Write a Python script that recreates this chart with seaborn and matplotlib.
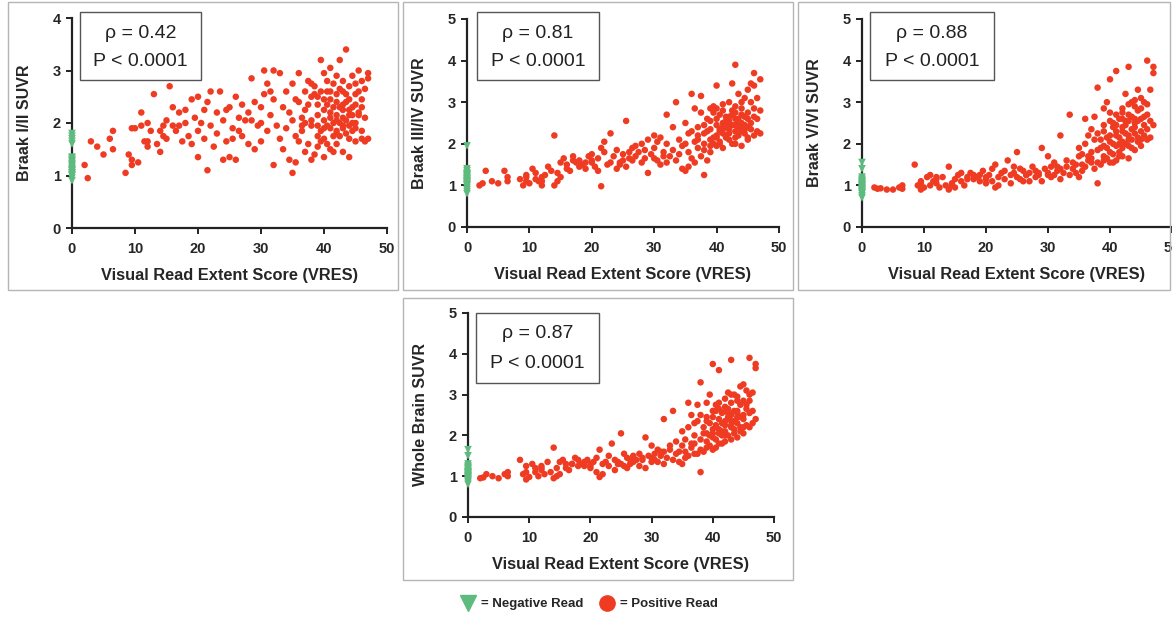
import numpy as np
import pandas as pd
import matplotlib
matplotlib.use("Agg")
import matplotlib.pyplot as plt
from matplotlib.patches import Rectangle
from matplotlib.lines import Line2D
import seaborn as sns

# ---------------- data ----------------
x_pos = [2, 2.5, 3, 4, 5, 6, 6.5, 6.5, 8.5, 9, 9.5, 9.5, 9.5, 10, 10.5, 11, 11, 11.5, 12, 12,
         12.5, 13, 14, 14, 14.5, 14.5, 15, 15, 15.5, 16, 16, 16.5, 17, 17.5, 18, 18, 18.5, 19, 19.5, 20,
         20, 20, 20.5, 21, 21, 21.5, 21.5, 22, 22, 22.5, 23, 23, 23.5, 24, 24, 24.5, 25, 25, 25.5, 25.5,
         26, 26, 26.5, 27, 27, 27.5, 28, 28, 28.5, 29, 29, 29.5, 30, 30, 30.5, 30.5, 31, 31, 31.5, 32,
         32, 32, 32.5, 33, 33, 33.5, 33.5, 34, 34, 34.5, 35, 35, 35, 35.5, 35.5, 36, 36, 36, 36.5, 36.5,
         37, 37, 37, 37.5, 37.5, 38, 38, 38, 38.5, 38.5, 39, 39, 39, 39.5, 39.5, 40, 40, 40, 40, 40.5,
         40.5, 40.5, 41, 41, 41, 41, 41.5, 41.5, 41.5, 42, 42, 42, 42, 42.5, 42.5, 42.5, 43, 43, 43, 43,
         43.5, 43.5, 43.5, 44, 44, 44, 44.5, 44.5, 44.5, 45, 45, 45, 45.5, 45.5, 46, 46, 46, 46.5, 46.5,
         47, 47, 47, 36.5, 37.5, 38, 38.5, 39, 39.5, 39.5, 40, 40, 40.5, 40.5, 41, 41, 41.5, 41.5, 42,
         42, 42, 42.5, 42.5, 43, 43, 43, 43.5, 43.5, 44, 44, 44, 44.5, 44.5, 45, 45, 45.5, 45.5, 46, 46,
         46.5, 37, 38, 39, 34.5, 35.5, 30, 31.5, 28.5, 26.5, 24.5, 19, 17, 13.5, 12, 40, 42, 43, 44, 45,
         41, 39]

braak12_pos = [1.20, 0.95, 1.65, 1.55, 1.40, 1.70, 1.85, 1.50, 1.05, 1.40, 1.90, 1.30, 1.20, 1.90, 1.25, 2.20, 1.95, 1.65, 1.55, 2.00,
               1.85, 2.55, 1.45, 1.85, 1.75, 1.95, 2.05, 1.70, 2.70, 1.95, 2.30, 1.85, 2.20, 1.65, 2.00, 2.25, 1.75, 2.45, 2.10, 1.85,
               2.50, 1.35, 2.00, 1.70, 2.25, 1.10, 2.40, 1.95, 2.60, 1.55, 2.20, 1.80, 2.60, 1.30, 2.05, 1.65, 1.35, 2.30, 1.90, 1.70,
               1.30, 2.50, 2.10, 1.75, 2.35, 2.05, 1.60, 2.20, 2.85, 1.50, 2.40, 1.95, 2.30, 1.65, 3.00, 2.55, 1.85, 2.75, 2.15, 1.20,
               3.00, 2.45, 1.95, 2.95, 1.70, 2.30, 1.50, 2.60, 1.90, 1.30, 2.05, 1.05, 2.75, 1.75, 1.25, 2.40, 1.65, 2.95, 2.10, 1.85,
               2.60, 1.45, 2.25, 2.80, 1.60, 1.30, 2.50, 1.95, 1.40, 2.70, 1.75, 2.15, 1.55, 3.20, 1.85, 2.05, 1.35, 2.95, 1.70, 2.35,
               1.95, 2.60, 2.20, 1.50, 3.05, 2.45, 2.00, 2.75, 1.75, 2.15, 1.85, 2.55, 1.60, 2.30, 2.00, 3.20, 1.95, 2.60, 2.10, 1.45,
               2.40, 3.40, 1.80, 2.25, 1.35, 2.70, 2.00, 2.90, 2.15, 2.55, 1.65, 2.35, 3.00, 2.20, 2.80, 2.45, 1.85, 2.65, 1.65,
               2.95, 2.85, 1.70, 1.95, 2.35, 2.05, 2.55, 2.35, 1.65, 2.60, 2.25, 1.90, 2.80, 1.60, 1.90, 2.60, 2.30, 1.45, 2.90,
               2.05, 2.40, 1.75, 2.65, 2.25, 2.80, 1.90, 2.05, 2.55, 1.95, 2.45, 1.70, 2.30, 1.85, 2.00, 2.75, 2.15, 2.60, 2.30, 1.70,
               2.10, 2.00, 2.75, 1.95, 2.20, 2.45, 2.00, 2.60, 2.05, 1.85, 2.25, 1.60, 1.95, 1.60, 1.65, 2.45, 1.80, 2.35, 2.15, 1.90,
               2.10, 2.50]

braak34_pos = [1.00, 1.05, 1.35, 1.10, 1.05, 1.35, 1.10, 1.20, 1.15, 1.00, 1.20, 1.10, 1.25, 1.05, 1.40, 1.15, 1.30, 1.10, 1.20, 1.00,
               1.25, 1.45, 2.20, 1.00, 1.10, 1.30, 1.55, 1.20, 1.65, 1.40, 1.50, 1.35, 1.70, 1.55, 1.45, 1.60, 1.50, 1.40, 1.70, 1.55,
               1.75, 1.60, 1.45, 1.35, 1.65, 0.98, 1.90, 1.80, 2.05, 1.50, 1.55, 2.25, 1.70, 1.40, 1.85, 1.55, 1.60, 1.75, 2.55, 1.45,
               1.65, 1.80, 1.90, 1.70, 1.95, 1.80, 1.55, 2.00, 1.85, 1.30, 2.10, 1.75, 2.20, 1.90, 1.60, 2.05, 1.50, 2.15, 1.80, 1.55,
               2.70, 2.00, 1.70, 2.40, 1.85, 3.00, 1.60, 2.10, 1.75, 1.40, 2.00, 1.35, 2.50, 1.80, 1.45, 2.30, 1.65, 3.20, 2.85, 1.55,
               2.40, 1.90, 2.10, 3.15, 1.70, 1.25, 2.00, 2.25, 1.60, 2.60, 2.35, 1.80, 2.10, 2.90, 2.00, 2.45, 1.95, 3.40, 2.20, 2.70,
               2.30, 2.05, 2.50, 1.90, 2.95, 2.25, 2.65, 2.40, 2.15, 3.00, 2.35, 2.55, 2.10, 2.80, 2.45, 3.45, 2.30, 3.90, 2.60, 2.00,
               2.50, 3.20, 2.20, 2.85, 1.95, 2.40, 2.65, 3.10, 2.25, 3.30, 2.10, 2.75, 3.45, 2.50, 3.70, 2.85, 2.20, 3.10, 2.60,
               3.55, 2.25, 2.80, 2.05, 2.75, 1.85, 2.30, 2.55, 2.15, 2.75, 2.15, 2.60, 2.35, 2.00, 2.40, 2.80, 2.20, 2.55, 2.65,
               2.25, 2.40, 2.00, 2.70, 2.45, 2.15, 2.75, 2.35, 2.60, 2.30, 3.00, 2.50, 2.45, 2.35, 2.60, 2.40, 3.00, 2.35, 2.65, 3.40,
               2.30, 2.20, 2.45, 1.95, 1.95, 2.25, 1.65, 1.70, 1.65, 1.60, 1.50, 1.55, 1.60, 1.35, 1.10, 2.85, 2.50, 2.90, 2.70, 2.15,
               2.35, 2.85]

braak56_pos = [0.95, 0.92, 0.93, 0.90, 0.90, 0.95, 1.00, 0.92, 1.50, 1.00, 0.90, 1.10, 1.05, 0.95, 1.20, 1.00, 1.25, 1.10, 1.15, 1.05,
               0.95, 1.20, 1.45, 0.90, 1.00, 1.05, 1.15, 0.95, 1.25, 1.10, 1.30, 1.00, 1.20, 1.30, 1.15, 1.25, 1.20, 1.10, 1.35, 1.20,
               1.15, 1.05, 1.25, 1.10, 1.40, 0.95, 1.50, 1.00, 1.20, 1.30, 1.15, 1.35, 1.60, 1.05, 1.25, 1.45, 1.20, 1.80, 1.40, 1.15,
               1.10, 1.35, 1.25, 1.10, 1.30, 1.45, 1.20, 1.35, 1.25, 1.10, 1.90, 1.40, 1.30, 1.70, 1.20, 1.45, 1.25, 1.55, 1.35, 1.15,
               2.20, 1.40, 1.30, 1.45, 1.60, 2.70, 1.25, 1.55, 1.40, 1.30, 1.70, 1.20, 1.90, 1.50, 1.35, 2.00, 1.45, 2.60, 2.20, 1.60,
               1.80, 1.55, 2.35, 2.65, 1.40, 1.05, 3.35, 1.85, 1.50, 2.10, 1.70, 2.45, 1.60, 3.00, 1.90, 2.20, 1.55, 3.55, 2.75, 2.00,
               1.75, 2.50, 2.30, 1.60, 3.75, 1.95, 2.60, 2.15, 1.80, 2.85, 2.40, 1.70, 2.05, 3.20, 2.25, 2.55, 1.95, 3.85, 2.70, 1.65,
               2.35, 3.00, 2.10, 2.90, 1.85, 2.50, 2.80, 3.30, 2.05, 3.10, 2.30, 2.60, 3.00, 2.20, 4.00, 2.70, 2.10, 3.30, 2.15,
               3.85, 2.45, 3.70, 1.70, 2.10, 1.55, 1.90, 2.30, 1.65, 2.15, 1.80, 2.05, 2.40, 1.55, 2.20, 2.45, 2.00, 1.70, 2.60,
               2.30, 1.90, 2.00, 2.45, 2.20, 2.95, 2.55, 2.65, 1.90, 2.25, 2.60, 2.40, 2.15, 2.55, 2.85, 2.10, 2.45, 2.65, 2.35, 2.95,
               2.55, 1.65, 2.25, 1.95, 1.50, 1.75, 1.25, 1.45, 1.30, 1.25, 1.30, 1.25, 1.15, 1.00, 1.20, 2.55, 2.75, 2.10, 3.05, 1.95,
               2.70, 2.85]

whole_pos = [0.95, 0.97, 1.05, 1.00, 0.95, 1.05, 1.10, 1.00, 1.40, 1.05, 0.92, 1.25, 1.10, 0.98, 1.30, 1.20, 1.10, 1.00, 1.25, 1.15,
             1.05, 1.35, 1.70, 0.95, 1.00, 1.20, 1.35, 1.05, 1.40, 1.20, 1.30, 1.15, 1.30, 1.45, 1.25, 1.40, 1.30, 1.35, 1.40, 1.20,
             1.30, 1.25, 1.35, 1.10, 1.45, 0.98, 1.65, 1.05, 1.30, 1.35, 1.25, 1.50, 1.80, 1.15, 1.40, 1.35, 1.30, 2.05, 1.55, 1.25,
             1.20, 1.45, 1.30, 1.35, 1.50, 1.40, 1.25, 1.55, 1.40, 1.20, 1.95, 1.50, 1.45, 1.75, 1.40, 1.55, 1.35, 1.65, 1.50, 1.30,
             2.40, 1.60, 1.45, 1.75, 1.65, 2.60, 1.40, 1.85, 1.55, 1.35, 1.75, 1.30, 2.10, 1.60, 1.45, 2.20, 1.50, 2.80, 2.50, 1.70,
             2.00, 1.55, 2.30, 2.75, 1.55, 1.10, 3.30, 1.90, 1.60, 2.20, 1.85, 2.35, 1.70, 3.00, 2.00, 2.15, 1.65, 3.75, 2.60, 2.25,
             1.90, 2.75, 2.40, 1.80, 3.60, 2.05, 2.55, 2.30, 2.00, 2.90, 2.25, 1.85, 2.10, 3.05, 2.45, 2.65, 2.20, 3.85, 2.80, 1.90,
             2.35, 3.00, 2.15, 2.95, 1.95, 2.60, 2.75, 3.20, 2.20, 3.25, 2.40, 2.50, 3.10, 2.25, 3.90, 2.85, 2.20, 3.05, 2.30,
             3.75, 2.40, 3.65, 1.80, 2.35, 1.65, 2.05, 2.45, 1.75, 2.30, 1.95, 2.05, 2.60, 1.70, 2.15, 2.65, 2.10, 1.80, 2.70,
             2.35, 2.00, 2.00, 2.55, 2.35, 3.00, 2.50, 2.60, 2.05, 2.30, 2.45, 2.55, 2.10, 2.45, 2.85, 2.20, 2.65, 2.75, 2.55, 3.00,
             2.60, 1.80, 2.50, 2.05, 1.60, 1.90, 1.35, 1.60, 1.45, 1.40, 1.30, 1.25, 1.30, 1.10, 1.20, 2.45, 2.60, 2.25, 2.85, 2.05,
             2.80, 2.80]

neg_braak12 = [0.90, 0.95, 1.00, 1.02, 1.05, 1.08, 1.10, 1.12, 1.15, 1.18, 1.20, 1.22, 1.25, 1.28, 1.30, 1.33, 1.35,
               1.00, 1.05, 1.10, 1.60, 1.65, 1.70, 1.75, 1.80]
neg_braak34 = [0.80, 0.85, 0.90, 0.95, 1.00, 1.02, 1.05, 1.08, 1.10, 1.12, 1.15, 1.18, 1.20, 1.22, 1.25, 1.28, 1.30,
               1.35, 1.40, 1.00, 1.05, 1.10, 1.15, 1.95, 1.25]
neg_braak56 = [0.70, 0.75, 0.80, 0.82, 0.85, 0.88, 0.90, 0.92, 0.95, 0.98, 1.00, 1.02, 1.05, 1.08, 1.10, 1.12, 1.15,
               1.20, 0.90, 0.95, 1.00, 1.05, 1.55, 1.40, 0.85]
neg_whole = [0.80, 0.85, 0.88, 0.90, 0.92, 0.95, 0.98, 1.00, 1.02, 1.05, 1.08, 1.10, 1.12, 1.15, 1.18, 1.20, 1.25,
             1.30, 0.95, 1.00, 1.05, 1.10, 1.65, 1.50, 1.22]

panel_ylabels = ["Braak I/II SUVR", "Braak III/IV SUVR", "Braak V/VI SUVR", "Whole Brain SUVR"]
panel_rho = ["\u03c1 = 0.42", "\u03c1 = 0.81", "\u03c1 = 0.88", "\u03c1 = 0.87"]
panel_p = ["P < 0.0001"] * 4
panel_ymax = [4, 5, 5, 5]
x_label = "Visual Read Extent Score (VRES)"
legend_labels = ["= Negative Read", "= Positive Read"]

# ---------------- style ----------------
sns.set_style("ticks")
plt.rcParams["font.family"] = ["Liberation Sans", "DejaVu Sans"]

RED = "#ee3b22"
GREEN = "#5dbb7e"
W, H = 1172, 618
fig = plt.figure(figsize=(W / 100, H / 100), dpi=100)

def fx(px):
    return px / W

def fy(py):
    return 1 - py / H

# axes rectangles in pixels (left, top, right, bottom)
axes_px = [(72, 18, 387, 228), (467, 19, 779, 227), (862, 19, 1172, 227), (468, 313, 774, 517)]
frames_px = [(8, 2, 398, 290), (403, 2, 793, 290), (798, 2, 1170, 290), (403, 298, 793, 580)]
ann_px = [(80, 12, 201, 80), (477, 12, 599, 80), (870, 12, 994, 80), (476, 313, 599, 383)]

pos_sets = [braak12_pos, braak34_pos, braak56_pos, whole_pos]
neg_sets = [neg_braak12, neg_braak34, neg_braak56, neg_whole]

for i in range(4):
    l, t, r, b = axes_px[i]
    ax = fig.add_axes([fx(l), fy(b), fx(r - l), (b - t) / H])
    pos_df = pd.DataFrame({"VRES": x_pos, "SUVR": pos_sets[i]})
    neg_df = pd.DataFrame({"VRES": [0] * len(neg_sets[i]), "SUVR": neg_sets[i]})
    sns.scatterplot(data=pos_df, x="VRES", y="SUVR", ax=ax, color=RED, s=22,
                    edgecolor="none", linewidth=0, clip_on=False, zorder=3)
    sns.scatterplot(data=neg_df, x="VRES", y="SUVR", ax=ax, color=GREEN, marker="v", s=30,
                    edgecolor="none", linewidth=0, clip_on=False, zorder=4)
    ax.set_xlim(0, 50)
    ax.set_ylim(0, panel_ymax[i])
    ax.set_xticks(range(0, 51, 10))
    ax.set_yticks(range(0, panel_ymax[i] + 1))
    ax.set_xlabel(x_label, fontsize=11.8, fontweight="bold", labelpad=9)
    ax.set_ylabel(panel_ylabels[i], fontsize=11.5, fontweight="bold", labelpad=15)
    sns.despine(ax=ax)
    for sp in ["left", "bottom"]:
        ax.spines[sp].set_linewidth(1.6)
        ax.spines[sp].set_color("#222222")
    ax.tick_params(axis="both", direction="out", length=4, width=1.4, labelsize=10.5, color="#222222")
    ax.tick_params(axis="x", pad=6)
    ax.tick_params(axis="y", pad=4)
    for lab in ax.get_xticklabels() + ax.get_yticklabels():
        lab.set_fontweight("bold")
    ax.patch.set_alpha(0)

    # panel frame
    fl, ft, fr, fb = frames_px[i]
    fig.patches.append(Rectangle((fx(fl), fy(fb)), fx(fr - fl), (fb - ft) / H,
                                 transform=fig.transFigure, fill=False, edgecolor="#b5b5b5", lw=1.0))
    # annotation box
    al, at, ar, ab = ann_px[i]
    fig.patches.append(Rectangle((fx(al), fy(ab)), fx(ar - al), (ab - at) / H,
                                 transform=fig.transFigure, facecolor="white", edgecolor="#555555", lw=1.0, zorder=5))
    cx = fx((al + ar) / 2)
    fig.text(cx, fy(at + 21), panel_rho[i], ha="center", va="center", fontsize=14, color="#222222", zorder=6)
    fig.text(cx, fy(at + 50), panel_p[i], ha="center", va="center", fontsize=14, color="#222222", zorder=6)

handles = [Line2D([], [], marker="v", color=GREEN, linestyle="none", markersize=11),
           Line2D([], [], marker="o", color=RED, linestyle="none", markersize=11)]
fig.legend(handles, legend_labels, loc="center", bbox_to_anchor=(fx(589), fy(604)), ncol=2,
           frameon=False, handletextpad=0.4, columnspacing=1.2, handlelength=1.2,
           prop={"weight": "bold", "size": 9.5})

fig.savefig("out.png", dpi=100)
